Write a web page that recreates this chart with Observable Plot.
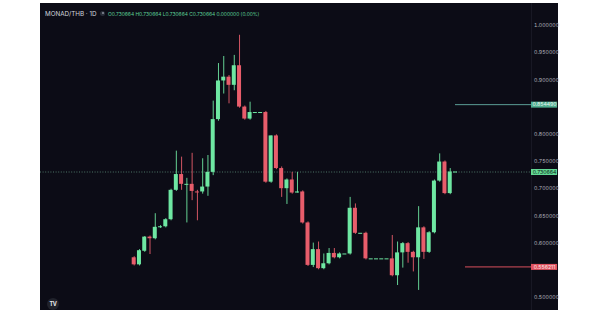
<!DOCTYPE html>
<html><head><meta charset="utf-8">
<script src="https://cdn.jsdelivr.net/npm/d3@7"></script>
<script src="https://cdn.jsdelivr.net/npm/@observablehq/plot@0.6"></script>
<style>
html,body{margin:0;padding:0;background:#fff;}
#wrap{position:relative;width:600px;height:314px;background:#fff;overflow:hidden;}
#panel{position:absolute;left:40px;top:3px;width:518px;height:307px;background:#0c0c16;}
#chart{position:absolute;left:0;top:0;width:540px;height:307px;}
#chart svg{max-width:none !important;}
#title{position:absolute;left:5px;top:7px;font:6.3px Inter, "DejaVu Sans", sans-serif;color:#d1d4dc;white-space:nowrap;}
#eye{position:absolute;left:60px;top:7.5px;width:5px;height:5px;border-radius:50%;background:#2a2e39;}
#eye::after{content:"";position:absolute;left:1.5px;top:1.5px;width:2px;height:2px;border-radius:50%;background:#8a8f9c;}
#ohlc{position:absolute;left:68px;top:8px;font:4.9px Inter, "DejaVu Sans", sans-serif;color:#5fd39a;white-space:nowrap;}
#logo{position:absolute;left:7px;top:295px;width:12px;height:12px;border-radius:50%;background:#20222b;color:#e8e8ec;font:bold 5.5px Inter, sans-serif;text-align:center;line-height:12px;letter-spacing:-0.3px;}
#sep{position:absolute;left:491px;top:0;width:1px;height:307px;background:#181824;}
</style>
</head><body>
<div id="wrap"><div id="panel"><div id="sep"></div><div id="chart"></div>
<div id="title">MONAD/THB · 1D</div><div id="eye"></div>
<div id="ohlc">O0.730664 H0.730664 L0.730664 C0.730664 0.000000 (0.00%)</div>
<div id="logo">TV</div>
</div></div>
<script>
const opens  = [0.573,0.560,0.585,0.611,0.608,0.629,0.630,0.643,0.697,0.726,0.707,0.708,0.695,0.694,0.703,0.730,0.827,0.898,0.905,0.890,0.926,0.850,0.828,0.840,0.840,0.840,0.712,0.797,0.737,0.700,0.716,0.692,0.694,0.637,0.559,0.588,0.553,0.562,0.581,0.573,0.580,0.580,0.664,0.618,0.618,0.571,0.571,0.571,0.571,0.571,0.540,0.582,0.599,0.583,0.573,0.628,0.583,0.619,0.714,0.749,0.691,0.730664];
const highs  = [0.575,0.588,0.612,0.613,0.654,0.632,0.645,0.699,0.769,0.758,0.719,0.765,0.697,0.755,0.761,0.861,0.930,0.943,0.908,0.945,0.982,0.852,0.859,0.840,0.840,0.842,0.797,0.799,0.740,0.718,0.730,0.730,0.696,0.639,0.600,0.602,0.580,0.590,0.590,0.582,0.580,0.684,0.672,0.618,0.620,0.571,0.571,0.571,0.571,0.614,0.602,0.601,0.601,0.585,0.667,0.630,0.621,0.716,0.764,0.751,0.737,0.730664];
const lows   = [0.558,0.558,0.583,0.579,0.606,0.627,0.628,0.641,0.695,0.697,0.637,0.678,0.641,0.690,0.686,0.724,0.824,0.874,0.856,0.880,0.848,0.826,0.826,0.840,0.840,0.710,0.710,0.735,0.684,0.671,0.690,0.692,0.635,0.557,0.555,0.551,0.551,0.560,0.571,0.571,0.580,0.578,0.616,0.618,0.569,0.571,0.571,0.571,0.571,0.538,0.522,0.554,0.563,0.547,0.513,0.570,0.581,0.617,0.712,0.689,0.689,0.730664];
const closes = [0.560,0.586,0.611,0.608,0.629,0.630,0.643,0.697,0.726,0.708,0.708,0.695,0.694,0.703,0.730,0.827,0.898,0.905,0.890,0.926,0.850,0.828,0.840,0.840,0.840,0.712,0.797,0.737,0.700,0.716,0.692,0.694,0.637,0.559,0.588,0.553,0.562,0.581,0.573,0.580,0.580,0.664,0.618,0.618,0.571,0.571,0.571,0.571,0.571,0.540,0.582,0.599,0.583,0.573,0.628,0.583,0.619,0.714,0.749,0.691,0.730664,0.730664];
const lastPrice = 0.730664;
const alertUp = 0.854490;
const alertDown = 0.556211;
const yTicks = [0.5,0.6,0.65,0.7,0.75,0.8,0.9,0.95,1.0];

const UP = "#6ee7a2", DOWN = "#e85d6b";
const candles = opens.map((o,i)=>({i, open:o, high:highs[i], low:lows[i], close:closes[i], up: closes[i] >= o}));
const color = d => d.up ? UP : DOWN;
const bodies = candles.filter(d => Math.abs(d.close-d.open) > 0.0018);
const flats = candles.filter(d => Math.abs(d.close-d.open) <= 0.0018);

const xDomain = [-17.79, 75.43];
const xEnd = xDomain[1];
const labW = 4.95;
const hw = 0.38;
const fmt = d3.format(".6f");

const chart = Plot.plot({
  width: 540, height: 307,
  marginLeft: 0, marginRight: 49, marginTop: 0, marginBottom: 0,
  style: {background: "transparent", fontFamily: "Inter, 'DejaVu Sans', sans-serif", overflow: "visible", maxWidth: "none"},
  x: {domain: xDomain, axis: null},
  y: {domain: [0.4761, 1.0404]},
  marks: [
    Plot.axisY({anchor: "right", ticks: yTicks, tickFormat: fmt, tickSize: 0, tickPadding: 2.6, fontSize: 5.2, fill: "#b2b5be"}),
    Plot.ruleY([lastPrice], {stroke: "#5d8f7c", strokeWidth: 0.8, strokeDasharray: "1,1.6"}),
    Plot.ruleY([alertUp], {x1: 61, x2: xEnd, stroke: "#5b9e95", strokeWidth: 1}),
    Plot.ruleY([alertDown], {x1: 62.9, x2: xEnd, stroke: "#d9505c", strokeWidth: 1}),
    Plot.ruleX(candles, {x: "i", y1: "low", y2: "high", stroke: color, strokeWidth: 0.9}),
    Plot.rect(bodies, {x1: d => d.i - hw, x2: d => d.i + hw, y1: "open", y2: "close", fill: color}),
    Plot.ruleY(flats, {x1: d => d.i - hw, x2: d => d.i + hw, y: "close", stroke: color, strokeWidth: 1}),
    Plot.ruleY([alertUp], {x1: xEnd, x2: xEnd + labW, stroke: "#4fae8f", strokeWidth: 6}),
    Plot.ruleY([lastPrice], {x1: xEnd, x2: xEnd + labW, stroke: "#62d894", strokeWidth: 6}),
    Plot.ruleY([alertDown], {x1: xEnd, x2: xEnd + labW, stroke: "#e0525f", strokeWidth: 6}),
    Plot.text([alertUp], {x: xEnd + labW/2, y: d => d, text: fmt, fill: "#e8f5ef", fontSize: 5.2}),
    Plot.text([lastPrice], {x: xEnd + labW/2, y: d => d, text: fmt, fill: "#0d2417", fontSize: 5.2}),
    Plot.text([alertDown], {x: xEnd + labW/2, y: d => d, text: fmt, fill: "#fbe9ea", fontSize: 5.2})
  ]
});
document.getElementById("chart").appendChild(chart);
</script>
</body></html>
